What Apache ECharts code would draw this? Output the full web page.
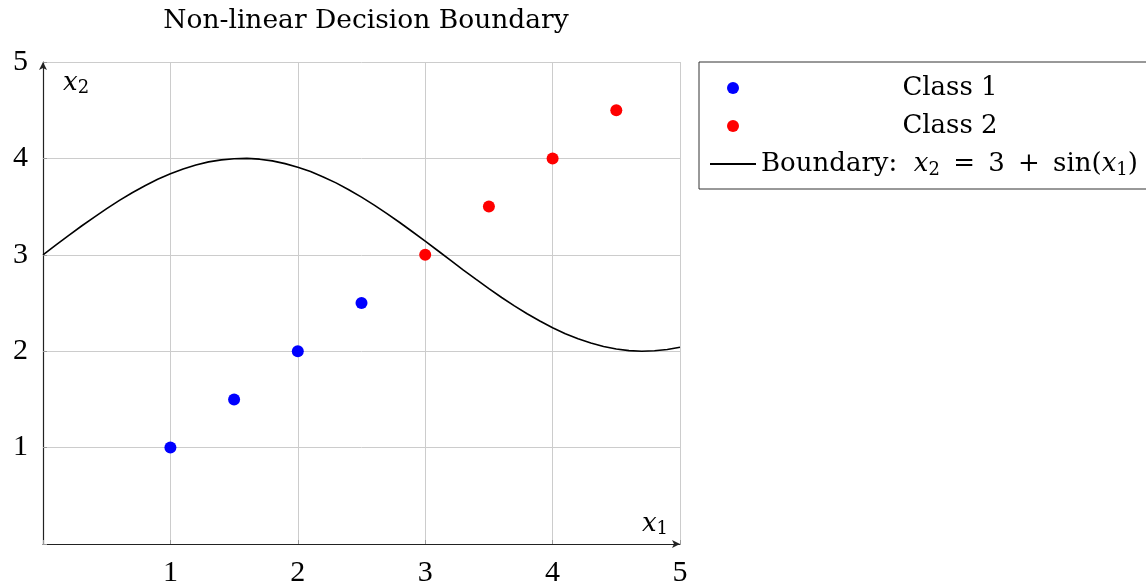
<!DOCTYPE html>
<html>
<head>
<meta charset="utf-8">
<script src="https://cdn.jsdelivr.net/npm/echarts@6/dist/echarts.min.js"></script>
<style>html,body{margin:0;padding:0;background:#fff;}#c{width:1146px;height:588px;}</style>
</head>
<body>
<div id="c"></div>
<script>
const titleText = 'Non-linear Decision Boundary';
const xTicks = [0, 1, 2, 3, 4, 5];
const yTicks = [0, 1, 2, 3, 4, 5];
const class1X = [1, 1.5, 2, 2.5];
const class1Y = [1, 1.5, 2, 2.5];
const class2X = [3, 3.5, 4, 4.5];
const class2Y = [3, 3.5, 4, 4.5];
const boundaryX = [0, 0.1, 0.2, 0.3, 0.4, 0.5, 0.6, 0.7, 0.8, 0.9, 1.0, 1.1, 1.2, 1.3, 1.4, 1.5, 1.6, 1.7, 1.8, 1.9, 2.0, 2.1, 2.2, 2.3, 2.4, 2.5,
                   2.6, 2.7, 2.8, 2.9, 3.0, 3.1, 3.2, 3.3, 3.4, 3.5, 3.6, 3.7, 3.8, 3.9, 4.0, 4.1, 4.2, 4.3, 4.4, 4.5, 4.6, 4.7, 4.8, 4.9, 5.0];
const boundaryY = [3.000, 3.100, 3.199, 3.296, 3.389, 3.479, 3.565, 3.644, 3.717, 3.783, 3.841, 3.891, 3.932, 3.964, 3.985, 3.997, 4.000, 3.992, 3.974, 3.946, 3.909,
                   3.863, 3.808, 3.746, 3.675, 3.598, 3.516, 3.427, 3.335, 3.239, 3.141, 3.042, 2.942, 2.842, 2.745, 2.649, 2.557, 2.470, 2.388, 2.313, 2.243,
                   2.182, 2.128, 2.084, 2.048, 2.022, 2.006, 2.000, 2.004, 2.018, 2.041];
const seriesNames = ['Class 1', 'Class 2', 'Boundary'];

const SERIF = 'DejaVu Serif';
const NUMF = 'Liberation Serif';
const zip = (a, b) => a.map((v, i) => [v, b[i]]);

const chart = echarts.init(document.getElementById('c'), null, {renderer: 'canvas'});
const axisCommon = {
  type: 'value',
  axisLine: {show: true, lineStyle: {color: '#222', width: 1.2}, symbol: ['none', 'arrow'], symbolSize: [6, 8]},
  axisTick: {show: true, length: 4, inside: true, lineStyle: {color: '#999'}},
  splitLine: {show: true, lineStyle: {color: '#cccccc', width: 1}},
  axisLabel: {color: '#000', fontFamily: NUMF, fontSize: 30, formatter: v => (v === 0 ? '' : String(v))}
};
const subStyle = {fontFamily: SERIF, fontSize: 18, color: '#000', verticalAlign: 'bottom', padding: [9, 0, 0, 0]};
chart.setOption({
  animation: false,
  title: {
    text: titleText, left: 361, top: 3, textAlign: 'center',
    textStyle: {fontFamily: SERIF, fontSize: 26.5, fontWeight: 'normal', color: '#000'}
  },
  grid: {left: 43, right: 466, top: 62, bottom: 41, containLabel: false},
  legend: {
    orient: 'vertical', left: 699, top: 62,
    padding: [11, 10, 10, 10], itemGap: 8, itemWidth: 46, itemHeight: 12,
    borderColor: '#333', borderWidth: 1,
    data: [seriesNames[0], seriesNames[1], {name: seriesNames[2], itemStyle: {opacity: 0}}],
    textStyle: {
      fontFamily: SERIF, fontSize: 26, color: '#000', lineHeight: 30,
      rich: {
        c: {width: 378, align: 'center', fontFamily: SERIF, fontSize: 26, lineHeight: 30},
        i: {fontStyle: 'italic', fontFamily: SERIF, fontSize: 26, lineHeight: 30},
        s: Object.assign({}, subStyle, {lineHeight: 30}),
        t: {fontFamily: SERIF, fontSize: 26, lineHeight: 30},
        o: {fontFamily: SERIF, fontSize: 26, lineHeight: 30, padding: [0, 5, 0, 5]}
      }
    },
    formatter: name => name === 'Boundary'
      ? '{t|Boundary:  }{i|x}{s|2}{o| = }{t|3}{o| + }{t|sin(}{i|x}{s|1}{t|)}'
      : '{c|' + name + '}'
  },
  xAxis: Object.assign({}, axisCommon, {
    min: xTicks[0], max: xTicks[xTicks.length - 1], interval: 1,
    axisLabel: Object.assign({}, axisCommon.axisLabel, {margin: 14}),
    name: '{i|x}{s|1}', nameLocation: 'end', nameGap: -12,
    nameTextStyle: {
      align: 'right', verticalAlign: 'bottom', padding: [0, 0, 6, 0],
      rich: {i: {fontStyle: 'italic', fontFamily: SERIF, fontSize: 26, color: '#000'}, s: subStyle}
    }
  }),
  yAxis: Object.assign({}, axisCommon, {
    min: yTicks[0], max: yTicks[yTicks.length - 1], interval: 1,
    axisLabel: Object.assign({}, axisCommon.axisLabel, {margin: 15}),
    name: '{i|x}{s|2}', nameLocation: 'end', nameGap: -8,
    nameTextStyle: {
      align: 'left', verticalAlign: 'top', padding: [0, 0, 0, 20],
      rich: {i: {fontStyle: 'italic', fontFamily: SERIF, fontSize: 26, color: '#000'}, s: subStyle}
    }
  }),
  series: [
    {name: seriesNames[0], type: 'scatter', data: zip(class1X, class1Y), symbol: 'circle', symbolSize: 12,
     itemStyle: {color: '#0000ff', opacity: 1}, z: 3},
    {name: seriesNames[1], type: 'scatter', data: zip(class2X, class2Y), symbol: 'circle', symbolSize: 12,
     itemStyle: {color: '#ff0000', opacity: 1}, z: 3},
    {name: seriesNames[2], type: 'line', data: zip(boundaryX, boundaryY), smooth: false, showSymbol: false,
     symbol: 'none', lineStyle: {color: '#000', width: 1.6}, itemStyle: {color: '#000', opacity: 0}, z: 2}
  ]
});
</script>
</body>
</html>
